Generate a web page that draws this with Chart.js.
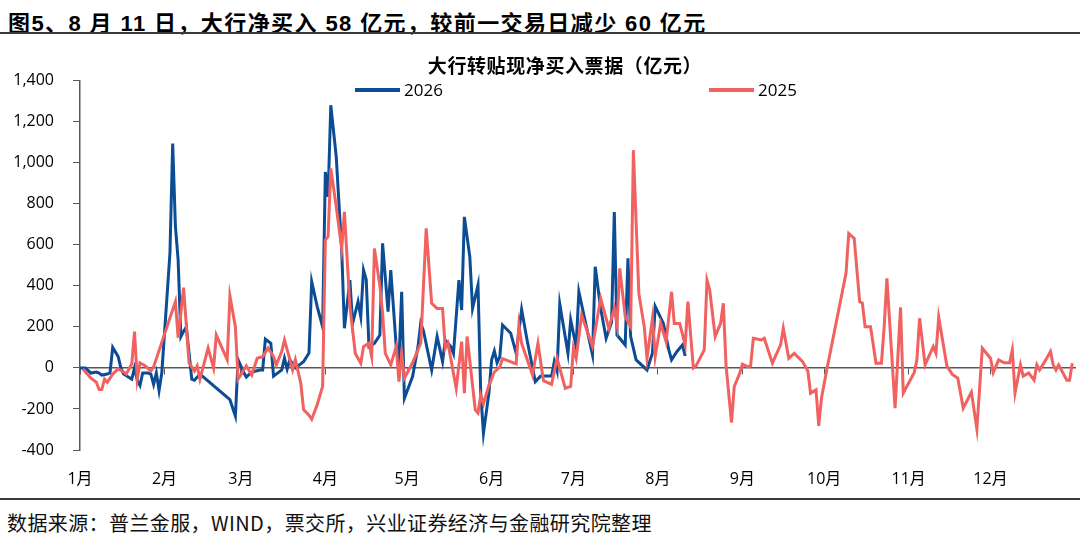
<!DOCTYPE html>
<html>
<head>
<meta charset="utf-8">
<script src="https://cdn.jsdelivr.net/npm/chart.js@4.4.1/dist/chart.umd.min.js"></script>
<style>
  body { margin: 0; width: 1080px; height: 536px; overflow: hidden; background: #fff; position: relative; }
  #title { position: absolute; left: 8px; top: 5px; line-height: 26px; font: bold 22px "Liberation Sans", "Noto Sans CJK SC", sans-serif; color: #000; white-space: nowrap; letter-spacing: 1.4px; }
  .rule { position: absolute; left: 0; width: 1080px; height: 2px; background: #3a3a3a; }
  #sub { position: absolute; left: 565px; top: 51px; line-height: 22px; transform: translateX(-50%); font: bold 19px "Noto Sans CJK SC", sans-serif; white-space: nowrap; color: #000; letter-spacing: 0.6px; }
  .leg { position: absolute; top: 78px; line-height: 20px; font: 17px "Open Sans", "Noto Sans CJK SC", sans-serif; display: flex; align-items: center; color: #000; }
  .leg i { display: inline-block; width: 45px; height: 4px; margin-right: 4px; }
  #wrap { position: absolute; left: 0; top: 52px; width: 1080px; height: 448px; }
  #src { position: absolute; left: 7px; top: 508px; line-height: 24px; font: 20px "Noto Sans CJK SC", sans-serif; white-space: nowrap; color: #111; letter-spacing: 0.4px; }
</style>
</head>
<body>
<div id="title">图5、8 月 11 日，大行净买入 58 亿元，较前一交易日减少 60 亿元</div>
<div class="rule" style="top:32px"></div>
<div id="wrap"><canvas id="chart"></canvas></div>
<div id="sub">大行转贴现净买入票据（亿元）</div>
<div class="leg" id="leg2026" style="left:355px"><i></i>2026</div>
<div class="leg" id="leg2025" style="left:709px"><i></i>2025</div>
<div class="rule" style="top:498px"></div>
<div id="src">数据来源：普兰金服，WIND，票交所，兴业证券经济与金融研究院整理</div>

<script>
// day of year (0 = 1月1日) and net purchase, 亿元
const days2026 = [0,2,4,6,7,8,10,11,12,14,15,16,19,20,21,22,23,25,26,27,28,29,30,33,34,35,36,37,38,39,
  41,42,44,55,57,58,60,61,63,66,67,68,70,71,74,75,76,77,79,80,82,84,85,87,89,90,91,92,94,96,
  97,99,100,102,103,104,105,106,108,110,111,113,114,116,117,118,119,122,124,125,126,129,131,133,134,136,137,139,140,141,
  143,144,146,147,148,150,151,152,153,154,155,158,160,162,164,167,169,173,174,175,176,179,180,182,183,188,189,191,193,195,
  196,197,200,201,202,204,208,210,211,214,216,217,219,221,222];
const values2026 = [0,0,-25,-20,-25,-35,-30,-25,100,55,0,-30,-55,0,-60,-85,-25,-25,-30,-80,-25,-110,-25,560,1093,690,527,152,178,200,
  -55,-60,-30,-155,-235,40,-20,-45,-20,-10,-10,140,120,-40,-10,48,-5,40,0,10,30,73,420,300,200,955,833,1280,1028,574,
  193,428,217,323,250,477,430,104,120,160,607,274,477,104,31,371,-148,-42,104,217,180,-10,153,31,136,104,70,428,282,736,
  541,290,404,-123,-318,-123,39,82,25,55,209,169,71,285,136,-67,-40,-40,31,-15,311,71,234,104,371,63,493,290,144,222,
  760,160,112,534,153,39,-10,73,300,217,88,39,80,112,58];

const days2025 = [1,3,4,6,7,8,9,10,12,14,16,17,19,20,21,22,24,26,27,35,
  36,38,40,42,43,44,47,49,50,54,55,57,58,61,63,65,67,69,71,72,
  74,75,77,78,79,81,82,84,85,87,89,90,91,92,94,96,97,99,101,103,
  104,106,107,108,110,111,112,114,116,117,118,119,122,125,127,129,131,133,134,135,
  138,140,141,142,145,146,147,148,150,152,154,155,160,161,162,166,168,170,173,175,
  178,180,181,182,184,188,191,194,196,197,198,200,202,203,205,207,208,210,211,213,
  215,217,218,220,222,223,225,226,229,230,231,233,235,236,237,239,240,242,243,245,
  246,247,250,251,254,257,258,260,262,265,267,268,270,271,272,274,281,282,284,286,
  287,288,290,292,294,295,296,299,301,302,306,307,308,310,313,314,315,318,320,322,
  324,327,329,331,334,335,337,339,341,342,343,345,346,348,350,351,352,354,356,357,
  358,359,362,363,364];
const values2025 = [-5,-35,-50,-70,-105,-105,-55,-70,-30,-5,-20,-30,20,177,-55,25,10,-15,5,323,
  147,391,25,-15,10,-55,97,0,160,40,350,200,-55,10,-35,47,55,97,55,15,
  80,136,40,-10,40,-75,-203,-230,-250,-180,-90,623,640,972,785,582,760,300,70,23,
  103,120,55,582,400,266,71,15,104,-67,71,-50,25,120,680,315,290,290,96,120,
  -99,128,-123,153,-204,-220,-133,-175,-85,-20,5,45,20,209,120,-34,120,-62,-80,47,
  -99,-90,96,47,258,104,339,193,290,209,485,250,200,1061,363,200,47,242,55,217,
  128,371,217,217,112,323,0,10,88,428,380,153,217,315,10,-266,-91,-26,18,5,
  10,144,136,144,23,112,193,47,71,32,-15,-123,-107,-282,-147,-5,461,655,631,323,
  315,201,201,23,23,201,436,-196,295,-123,-23,40,242,15,104,71,247,10,-32,-50,
  -196,-118,-298,96,47,-23,39,25,25,88,-123,15,-40,-25,-60,15,-10,33,80,15,
  -10,15,-60,-60,23];

const monthTicks = [0, 31, 59, 90, 120, 151, 181, 212, 243, 273, 304, 334];
const monthLabels = ['1月','2月','3月','4月','5月','6月','7月','8月','9月','10月','11月','12月'];

const BLUE = '#0b4c95';
const RED = '#f06160';
const AXIS = '#595959';

document.querySelector('#leg2026 i').style.background = BLUE;
document.querySelector('#leg2025 i').style.background = RED;

function toPoints(days, values) {
  return days.map((d, i) => ({ x: d, y: values[i] }));
}

function setMonthTicks(axis) {
  axis.ticks = monthTicks.map(v => ({ value: v }));
}

Chart.defaults.font.family = '"Open Sans", "Noto Sans CJK SC", sans-serif';

new Chart(document.getElementById('chart'), {
  type: 'line',
  data: {
    datasets: [
      { label: '2026', data: toPoints(days2026, values2026), borderColor: BLUE, borderWidth: 3, pointRadius: 0, tension: 0, order: 1 },
      { label: '2025', data: toPoints(days2025, values2025), borderColor: RED, borderWidth: 3, pointRadius: 0, tension: 0, order: 0 }
    ]
  },
  options: {
    responsive: true,
    maintainAspectRatio: false,
    animation: false,
    locale: 'en-US',
    layout: { padding: { top: 10, right: 5, left: 0, bottom: 0 } },
    plugins: { legend: { display: false }, tooltip: { enabled: false } },
    scales: {
      x: {
        type: 'linear', min: 0, max: 365,
        afterBuildTicks: setMonthTicks,
        afterFit: s => { s.height = 50; },
        grid: { display: false, drawTicks: false },
        border: { display: false },
        ticks: {
          padding: 20, color: '#000', font: { size: 16 }, maxRotation: 0, autoSkip: false,
          callback: v => monthLabels[monthTicks.indexOf(v)]
        }
      },
      // zero line with small month tick marks
      xZero: {
        type: 'linear', axis: 'x', position: { y: 0 }, min: 0, max: 365,
        afterBuildTicks: setMonthTicks,
        grid: { drawOnChartArea: false, tickLength: 6, color: AXIS },
        border: { color: AXIS, width: 1.5 },
        ticks: { display: false }
      },
      y: {
        min: -400, max: 1400,
        afterFit: s => { s.width = 80; },
        ticks: { stepSize: 200, padding: 19, color: '#000', font: { size: 16 } },
        grid: { drawOnChartArea: false, tickLength: 7, color: AXIS },
        border: { color: AXIS, width: 1.5 }
      }
    }
  }
});
</script>
</body>
</html>
